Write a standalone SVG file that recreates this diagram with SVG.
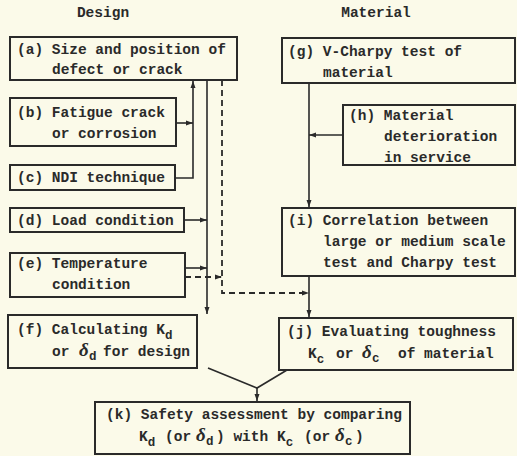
<svg xmlns="http://www.w3.org/2000/svg" width="517" height="456" viewBox="0 0 517 456">
<defs>
<marker id="ah" markerWidth="8" markerHeight="6" refX="7" refY="3" orient="auto" markerUnits="userSpaceOnUse">
<path d="M0,0.5 L7,3 L0,5.5 Z" fill="#2a2a2a"/>
</marker>
<style>
.bx{fill:none;stroke:#2a2a2a;stroke-width:2}
.t{font-family:"Liberation Mono","DejaVu Sans Mono",monospace;font-size:14.5px;font-weight:bold;fill:#2a2a2a}
.s{font-size:12.5px}
.dl{font-family:"Liberation Serif",serif;font-style:italic;font-size:19px;font-weight:bold}
.c{fill:none;stroke:#2a2a2a;stroke-width:1.6}
.d{fill:none;stroke:#2a2a2a;stroke-width:1.8;stroke-dasharray:6,4}
</style>
</defs>
<rect width="517" height="456" fill="#fbfae9"/>
<text class="t" x="103" y="17" text-anchor="middle">Design</text>
<text class="t" x="376" y="17" text-anchor="middle">Material</text>

<g id="a"><rect class="bx" x="10" y="37" width="227" height="43"/>
<text class="t" x="17" y="54">(a) Size and position of</text>
<text class="t" x="52" y="74">defect or crack</text></g>

<g id="b"><rect class="bx" x="10" y="98" width="166" height="48"/>
<text class="t" x="17" y="117">(b) Fatigue crack</text>
<text class="t" x="52" y="138">or corrosion</text></g>

<g id="c"><rect class="bx" x="10" y="165" width="165" height="25"/>
<text class="t" x="17" y="182">(c) NDI technique</text></g>

<g id="d"><rect class="bx" x="10" y="208" width="174" height="24"/>
<text class="t" x="17" y="225">(d) Load condition</text></g>

<g id="e"><rect class="bx" x="10" y="253" width="175" height="44"/>
<text class="t" x="17" y="268">(e) Temperature</text>
<text class="t" x="52" y="289">condition</text></g>

<g id="f"><rect class="bx" x="8" y="315" width="189" height="53"/>
<text class="t" x="17" y="334">(f) Calculating K<tspan class="s" dy="5">d</tspan></text>
<text class="t" x="52" y="356">or<tspan class="dl" x="79">δ</tspan><tspan class="s" x="89" dy="4">d</tspan><tspan x="103" dy="-4">for design</tspan></text></g>

<g id="g"><rect class="bx" x="282" y="38" width="233" height="45"/>
<text class="t" x="288" y="56">(g) V-Charpy test of</text>
<text class="t" x="323" y="77">material</text></g>

<g id="h"><rect class="bx" x="343" y="105" width="172" height="60"/>
<text class="t" x="349" y="120">(h) Material</text>
<text class="t" x="384" y="141">deterioration</text>
<text class="t" x="384" y="162">in service</text></g>

<g id="i"><rect class="bx" x="282" y="208" width="233" height="68"/>
<text class="t" x="288" y="225">(i) Correlation between</text>
<text class="t" x="323" y="246">large or medium scale</text>
<text class="t" x="323" y="267">test and Charpy test</text></g>

<g id="j"><rect class="bx" x="279" y="318" width="234" height="52"/>
<text class="t" x="287" y="336">(j) Evaluating toughness</text>
<text class="t" x="308" y="358">K<tspan class="s" dy="5">c</tspan><tspan x="336" dy="-5">or</tspan><tspan class="dl" x="362">δ</tspan><tspan class="s" x="372" dy="4">c</tspan><tspan x="398" dy="-4">of material</tspan></text></g>

<g id="k"><rect class="bx" x="95" y="402" width="315" height="52"/>
<text class="t" x="106" y="419">(k) Safety assessment by comparing</text>
<text class="t" x="139" y="441">K<tspan class="s" dy="5">d</tspan><tspan x="165" dy="-5">(or</tspan><tspan class="dl" x="196">δ</tspan><tspan class="s" x="206" dy="4">d</tspan><tspan x="216" dy="-4">) with K</tspan><tspan class="s" dy="5">c</tspan><tspan x="304" dy="-5">(or</tspan><tspan class="dl" x="335">δ</tspan><tspan class="s" x="345" dy="4">c</tspan><tspan x="355" dy="-4">)</tspan></text></g>

<g id="connectors">
<path class="c" d="M176,123 H193" marker-end="url(#ah)"/>
<path class="c" d="M175,178 H193 V81" marker-end="url(#ah)"/>
<path class="c" d="M207,80 V314" marker-end="url(#ah)"/>
<path class="c" d="M184,220 H207" marker-end="url(#ah)"/>
<path class="c" d="M185,268 H207" marker-end="url(#ah)"/>
<path class="d" d="M185,277 H222" marker-end="url(#ah)"/>
<path class="d" d="M222,80 V293 H309" marker-end="url(#ah)"/>
<path class="c" d="M309,83 V207" marker-end="url(#ah)"/>
<path class="c" d="M343,135 H309" marker-end="url(#ah)"/>
<path class="c" d="M309,276 V317" marker-end="url(#ah)"/>
<path class="c" d="M208,368 L257,388 L287,370"/>
<path class="c" d="M257,388 V401" marker-end="url(#ah)"/>
</g>
</svg>
